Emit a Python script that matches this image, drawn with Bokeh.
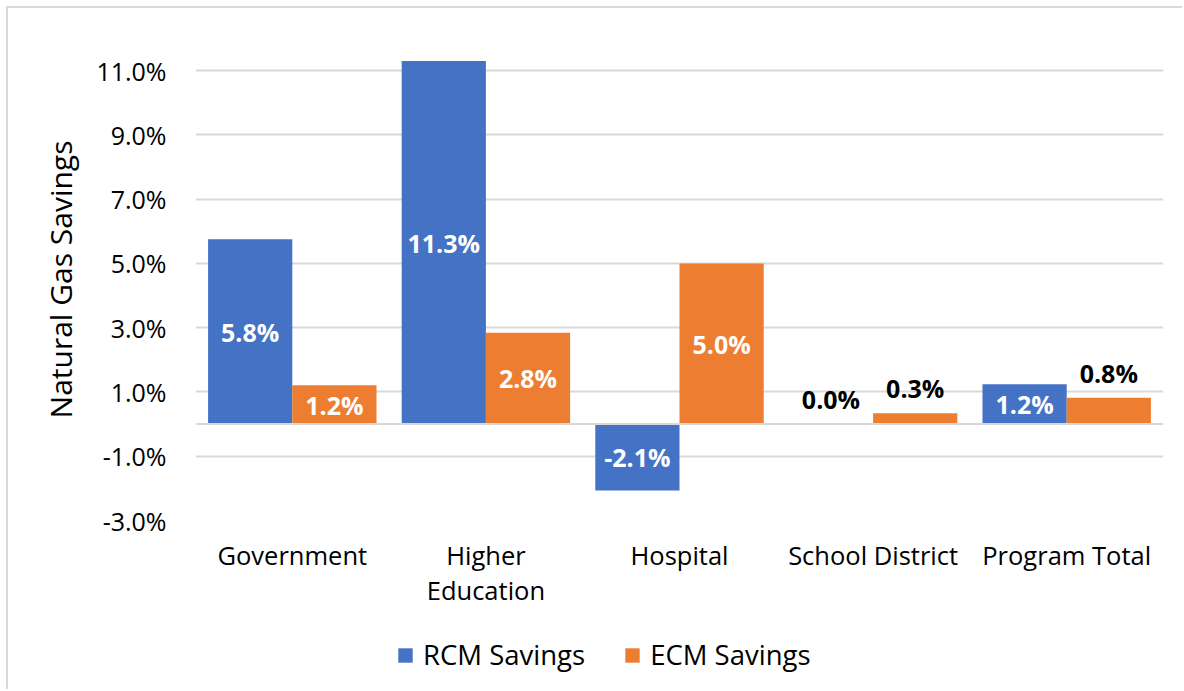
from bokeh.plotting import figure
from bokeh.layouts import column
from bokeh.models import (ColumnDataSource, FixedTicker, PrintfTickFormatter,
                          Span, Legend, LegendItem, Range1d)
from bokeh.core.properties import value
from bokeh.embed import file_html
from bokeh.resources import INLINE

# ---- data ----
categories = ["Government", "Higher Education", "Hospital", "School District", "Program Total"]
category_labels = ["Government", "Higher\nEducation", "Hospital", "School District", "Program Total"]
rcm_savings = [5.75, 11.3, -2.07, 0.0, 1.24]
ecm_savings = [1.21, 2.84, 5.0, 0.34, 0.82]
series_names = ["RCM Savings", "ECM Savings"]
y_ticks = [-3, -1, 1, 3, 5, 7, 9, 11]

# ---- styles ----
FONT = "Open Sans"
BLUE = "#4472C4"
ORANGE = "#ED7D31"
GRID = "#D9D9D9"
BAR_W = 0.435
OFFSET = BAR_W / 2
W = 1174
H_MAIN = 620
H_LEG = 61

pos = list(range(len(categories)))
src = ColumnDataSource(dict(
    x_rcm=[i - OFFSET for i in pos], x_ecm=[i + OFFSET for i in pos],
    rcm=rcm_savings, ecm=ecm_savings))

p = figure(x_range=Range1d(-0.5, len(categories) - 0.5), y_range=Range1d(-3, 12),
           width=W, height=H_MAIN, output_backend="svg", toolbar_location=None,
           min_border_left=187, min_border_right=19, min_border_top=30, min_border_bottom=108)
p.outline_line_color = None
p.background_fill_color = "white"
p.border_fill_color = "white"

r1 = p.vbar(x="x_rcm", top="rcm", width=BAR_W, source=src, fill_color=BLUE, line_color=None)
r2 = p.vbar(x="x_ecm", top="ecm", width=BAR_W, source=src, fill_color=ORANGE, line_color=None)

# data labels: inside (centered, white) when bar is tall enough, otherwise above (black)
lab_in = dict(x=[], y=[], t=[])
lab_out = dict(x=[], y=[], t=[])
for vals, off in ((rcm_savings, -OFFSET), (ecm_savings, OFFSET)):
    for i, v in zip(pos, vals):
        txt = f"{v:.1f}%"
        if abs(v) >= 1.0:
            lab_in["x"].append(i + off); lab_in["y"].append(v / 2); lab_in["t"].append(txt)
        else:
            lab_out["x"].append(i + off); lab_out["y"].append(max(v, 0)); lab_out["t"].append(txt)

p.text(x="x", y="y", text="t", source=ColumnDataSource(lab_in),
       text_color="white", text_font=value(FONT), text_font_style="bold",
       text_font_size="25px", text_align="center", text_baseline="middle")
p.text(x="x", y="y", text="t", source=ColumnDataSource(lab_out),
       text_color="black", text_font=value(FONT), text_font_style="bold",
       text_font_size="25px", text_align="center", text_baseline="bottom", y_offset=-8)

# zero line
p.add_layout(Span(location=0, dimension="width", line_color=GRID, line_width=2))

# axes
p.yaxis.ticker = FixedTicker(ticks=y_ticks)
p.yaxis.formatter = PrintfTickFormatter(format="%.1f%%")
p.yaxis.axis_label = "Natural Gas Savings"
p.yaxis.axis_label_text_font = FONT
p.yaxis.axis_label_text_font_size = "30px"
p.yaxis.axis_label_text_font_style = "normal"
p.yaxis.axis_label_text_color = "black"
p.yaxis.axis_label_standoff = 12
p.yaxis.major_label_text_font = FONT
p.yaxis.major_label_text_font_size = "25px"
p.yaxis.major_label_text_color = "black"
p.yaxis.major_label_standoff = 23

p.xaxis.ticker = FixedTicker(ticks=pos)
p.xaxis.major_label_overrides = {i: lab for i, lab in zip(pos, category_labels)}
p.xaxis.major_label_text_font = FONT
p.xaxis.major_label_text_font_size = "25.5px"
p.xaxis.major_label_text_color = "black"
p.xaxis.major_label_text_line_height = 1.04
p.xaxis.major_label_standoff = 11

for ax in (p.xaxis[0], p.yaxis[0]):
    ax.axis_line_color = None
    ax.major_tick_line_color = None
    ax.minor_tick_line_color = None

p.xgrid.grid_line_color = None
p.ygrid.grid_line_color = GRID
p.ygrid.grid_line_width = 2

# ---- legend strip below the chart ----
lg = figure(width=W, height=H_LEG, output_backend="svg", toolbar_location=None,
            x_axis_type=None, y_axis_type=None, x_range=Range1d(0, 1), y_range=Range1d(0, 1),
            min_border=0)
lg.outline_line_color = None
lg.grid.grid_line_color = None
lg.background_fill_color = "white"
lg.border_fill_color = "white"
# proxy renderers (zero-size) that only supply legend swatches
proxy = ColumnDataSource(dict(x=[0.5], top=[0.0]))
d1 = lg.vbar(x="x", top="top", width=0.0, source=proxy, fill_color=BLUE, line_color=None)
d2 = lg.vbar(x="x", top="top", width=0.0, source=proxy, fill_color=ORANGE, line_color=None)

legend = Legend(items=[LegendItem(label=series_names[0], renderers=[d1]),
                       LegendItem(label=series_names[1], renderers=[d2])],
                orientation="horizontal", location=(201, 16),
                glyph_width=18, glyph_height=18, label_standoff=9, spacing=38,
                label_text_font=FONT, label_text_font_size="27.5px", label_text_color="black",
                border_line_color=None, background_fill_alpha=0, margin=0, padding=0)
lg.add_layout(legend, "center")

layout = column(p, lg, spacing=0,
                styles={"margin": "6px 0 0 6px",
                        "border-left": "2px solid #D9D9D9",
                        "border-top": "2px solid #D9D9D9"})

open("out.html", "w").write(file_html(layout, INLINE))
